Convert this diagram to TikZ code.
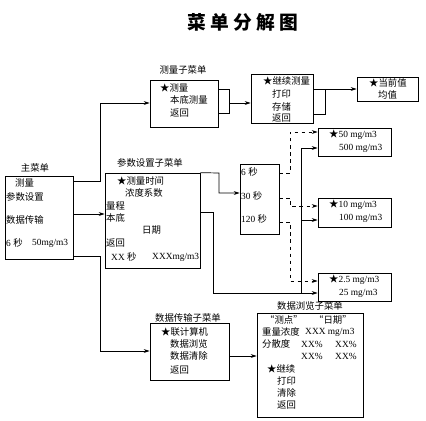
\documentclass[tikz,border=0pt]{standalone}
\usepackage{fontspec}
\setmainfont{Liberation Serif}
\newfontfamily\cjk{Noto Sans CJK SC}
\usetikzlibrary{arrows.meta,fit}

\begin{document}
\begin{tikzpicture}[x=0.03cm,y=-0.03cm,
  box/.style={draw,inner sep=0pt,line width=0.6pt},
  txt/.style={anchor=west,inner sep=0pt,font=\cjk\fontsize{8}{9}\selectfont},
  num/.style={anchor=west,inner sep=0pt,font=\fontsize{8}{9}\selectfont},
  lbl/.style={inner sep=0pt,font=\cjk\fontsize{8}{9}\selectfont},
  link/.style={line width=0.6pt},
  arr/.style={link,-{Stealth[length=5pt,width=3.2pt]}},
  dline/.style={link,dashed}]
  \useasboundingbox (0,0) rectangle (426,420);

  \node[font=\cjk\bfseries\fontsize{16}{18}\selectfont] (title) at (243,22)
    {菜\hspace{3.5pt}单\hspace{3.5pt}分\hspace{3.5pt}解\hspace{3.5pt}图};

  % boxes
  \node[box,fit={(5,176) (73,259)}] (main) {};
  \node[box,fit={(150,80) (218,127)}] (meas) {};
  \node[box,fit={(251,74) (313,123)}] (cont) {};
  \node[box,fit={(357,77) (418,101)}] (curr) {};
  \node[box,fit={(105,173) (200,268)}] (param) {};
  \node[box,fit={(240,164) (279,234)}] (time) {};
  \node[box,fit={(318,128) (391,156)}] (b50) {};
  \node[box,fit={(318,198) (391,227)}] (b10) {};
  \node[box,fit={(318,273) (391,301)}] (b25) {};
  \node[box,fit={(150,323) (229,380)}] (trans) {};
  \node[box,fit={(257,313) (363,417)}] (browse) {};

  % titles of the boxes
  \node[lbl] (lmain) at (35,168) {主菜单};
  \node[lbl] (lmeas) at (183,70) {测量子菜单};
  \node[lbl] (lparam) at (150,163) {参数设置子菜单};
  \node[lbl] (ltrans) at (188,318) {数据传输子菜单};
  \node[lbl] (lbrowse) at (310,306) {数据浏览子菜单};

  % main menu
  \node[txt] (m1) at (15,183) {测量};
  \node[txt] (m2) at (6,197) {参数设置};
  \node[txt] (m3) at (6,220) {数据传输};
  \node[num] (m4) at (6,243) {6 {\cjk 秒}};
  \node[num] (m5) at (32,243) {50mg/m3};

  % measurement
  \node[txt] (s1) at (160,88) {★测量};
  \node[txt] (s2) at (170,100) {本底测量};
  \node[txt] (s3) at (170,113) {返回};
  \node[txt] (c1) at (263,81) {★继续测量};
  \node[txt] (c2) at (272,94) {打印};
  \node[txt] (c3) at (272,107) {存储};
  \node[txt] (c4) at (272,118) {返回};
  \node[txt] (v1) at (369,83) {★当前值};
  \node[txt] (v2) at (378,95) {均值};

  % parameters
  \node[txt] (p1) at (117,181) {★测量时间};
  \node[txt] (p2) at (125,193) {浓度系数};
  \node[txt] (p3) at (106,206) {量程};
  \node[txt] (p4) at (106,218) {本底};
  \node[txt] (p5) at (142,230) {日期};
  \node[txt] (p6) at (106,243) {返回};
  \node[num] (p7) at (111,257) {XX {\cjk 秒}};
  \node[num] (p8) at (152,257) {XXXmg/m3};
  \node[num] (t1) at (241,172) {6 {\cjk 秒}};
  \node[num] (t2) at (241,196) {30 {\cjk 秒}};
  \node[num] (t3) at (241,219) {120 {\cjk 秒}};
  \node[num] (r1) at (329,135) {{\cjk ★}50 mg/m3};
  \node[num] (r2) at (339,148) {500 mg/m3};
  \node[num] (r3) at (329,205) {{\cjk ★}10 mg/m3};
  \node[num] (r4) at (339,218) {100 mg/m3};
  \node[num] (r5) at (329,280) {{\cjk ★}2.5 mg/m3};
  \node[num] (r6) at (339,293) {25 mg/m3};

  % data transfer
  \node[txt] (d1) at (161,332) {★联计算机};
  \node[txt] (d2) at (170,344) {数据浏览};
  \node[txt] (d3) at (170,356) {数据清除};
  \node[txt] (d4) at (170,370) {返回};
  \node[txt] (w1) at (265,320) {“测点”};
  \node[txt] (w2) at (314,320) {“日期”};
  \node[txt] (w3) at (262,332) {重量浓度};
  \node[num] (w4) at (305,332) {XXX mg/m3};
  \node[txt] (w5) at (262,344) {分散度};
  \node[num] (w6) at (301,344) {XX\%};
  \node[num] (w7) at (335,344) {XX\%};
  \node[num] (w8) at (301,356) {XX\%};
  \node[num] (w9) at (335,356) {XX\%};
  \node[txt] (w10) at (267,369) {★继续};
  \node[txt] (w11) at (277,381) {打印};
  \node[txt] (w12) at (277,393) {清除};
  \node[txt] (w13) at (277,405) {返回};

  % connectors
  \draw[arr] (main.east |- 0,181) -- (100,181) |- (meas.west |- 0,103);
  \draw[arr] (main.east |- 0,214) -- (param.west |- 0,214);
  \draw[arr] (main.east |- 0,256) -- (100,256) |- (trans.west |- 0,351);
  \draw[link] (meas.east |- 0,89) -- (229,89) -- (229,113) -- (meas.east |- 0,113);
  \draw[arr] (229,103) -- (cont.west |- 0,103);
  \draw[link] (cont.east |- 0,89) -- (325,89) -- (325,114) -- (cont.east |- 0,114);
  \draw[arr] (cont.east |- 0,89) -- (curr.west |- 0,89);
  \draw[arr] (param.north east) -- (219,173) |- (time.west |- 0,193);
  \draw[arr] (param.east |- 0,212) -- (213,212) |- (b25.west |- 0,293);
  \draw[link] (301,293) -- (301,148);
  \draw[arr] (301,148) -- (b50.west |- 0,148);
  \draw[arr] (301,220) -- (b10.west |- 0,220);
  \draw[dline,-{Stealth[length=5pt,width=3.2pt]}] (time.east |- 0,173) -- (290,173) |- (b50.west |- 0,132);
  \draw[dline,-{Stealth[length=5pt,width=3.2pt]}] (time.east |- 0,198) -- (290,198) |- (b10.west |- 0,206);
  \draw[dline,-{Stealth[length=5pt,width=3.2pt]}] (time.east |- 0,222) -- (290,222) |- (b25.west |- 0,281);
  \draw[arr] (trans.east |- 0,356) -- (browse.west |- 0,356);
\end{tikzpicture}
\end{document}
